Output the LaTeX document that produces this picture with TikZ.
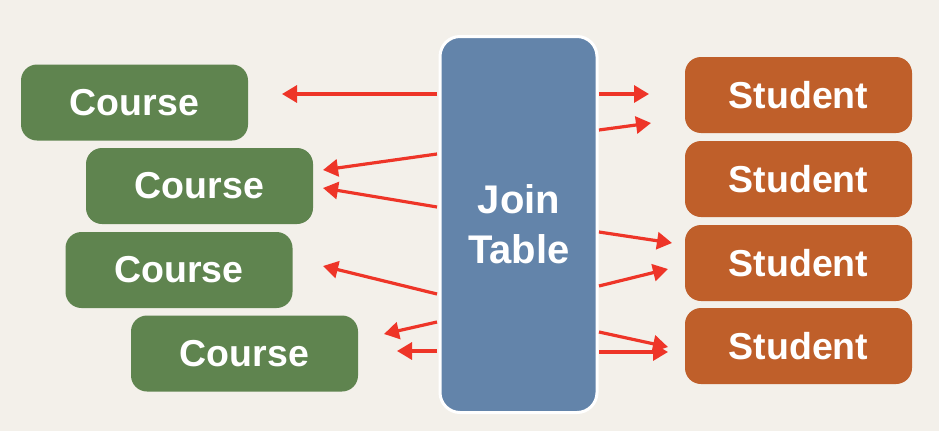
\documentclass[tikz,border=0pt]{standalone}
\usepackage{fontspec}
\setmainfont{Liberation Sans}
\usetikzlibrary{arrows.meta}
\definecolor{paper}{HTML}{F3F0EA}
\definecolor{cgreen}{HTML}{5F844F}
\definecolor{corange}{HTML}{BF5F2A}
\definecolor{cblue}{HTML}{6384AA}
\definecolor{cred}{HTML}{EE3528}
\tikzset{
  coursebox/.style={fill=cgreen, rounded corners=16pt, minimum width=227pt, minimum height=76pt, inner sep=0pt,
    text=white, font=\fontsize{37.5}{44}\selectfont\bfseries},
  studentbox/.style={fill=corange, rounded corners=16pt, minimum width=227pt, minimum height=76pt, inner sep=0pt,
    text=white, font=\fontsize{37.5}{44}\selectfont\bfseries},
  joinbox/.style={fill=cblue, draw=white, line width=3pt, rounded corners=20pt, minimum width=157pt, minimum height=376pt, inner sep=0pt},
  jointext/.style={text=white, font=\fontsize{40}{50}\selectfont\bfseries, align=center, inner sep=0pt},
  redarrow/.style={draw=cred, line width=3.2pt, -{Triangle[length=15pt,width=17pt]}}
}
\begin{document}
\begin{tikzpicture}[x=1pt,y=-1pt]
\fill[paper] (0,0) rectangle (939,431);
\useasboundingbox (0,0) rectangle (939,431);

\node[coursebox] (c1) at (134.5,102.5) {Course};
\node[coursebox] (c2) at (199.5,186) {Course};
\node[coursebox] (c3) at (179,270) {Course};
\node[coursebox] (c4) at (244.5,353.5) {Course};

\node[studentbox] (s1) at (798.5,95) {Student};
\node[studentbox] (s2) at (798.5,179) {Student};
\node[studentbox] (s3) at (798.5,263) {Student};
\node[studentbox] (s4) at (798.5,346) {Student};

\node[joinbox] (jt) at (518.5,224.5) {};
\node[jointext] (jtt) at (519,224) {Join\\Table};

% left tails and tips
\coordinate (lt1) at (437,94);   \coordinate (lh1) at (282,94);
\coordinate (lt2) at (437,154);  \coordinate (lh2) at (323,170);
\coordinate (lt3) at (437,207);  \coordinate (lh3) at (323,188);
\coordinate (lt4) at (437,294);  \coordinate (lh4) at (323,266);
\coordinate (lt5) at (437,322);  \coordinate (lh5) at (384,334);
\coordinate (lt6) at (437,351);  \coordinate (lh6) at (397,351);
% right tails and tips
\coordinate (rt1) at (599,94);   \coordinate (rh1) at (649,94);
\coordinate (rt2) at (599,130);  \coordinate (rh2) at (651,123);
\coordinate (rt3) at (599,232);  \coordinate (rh3) at (672,243);
\coordinate (rt4) at (599,286);  \coordinate (rh4) at (668,269);
\coordinate (rt5) at (599,332);  \coordinate (rh5) at (668,347);
\coordinate (rt6) at (599,352);  \coordinate (rh6) at (668,352);

\foreach \i in {1,...,6} {
  \draw[redarrow] (lt\i) -- (lh\i);
  \draw[redarrow] (rt\i) -- (rh\i);
}
\end{tikzpicture}
\end{document}
